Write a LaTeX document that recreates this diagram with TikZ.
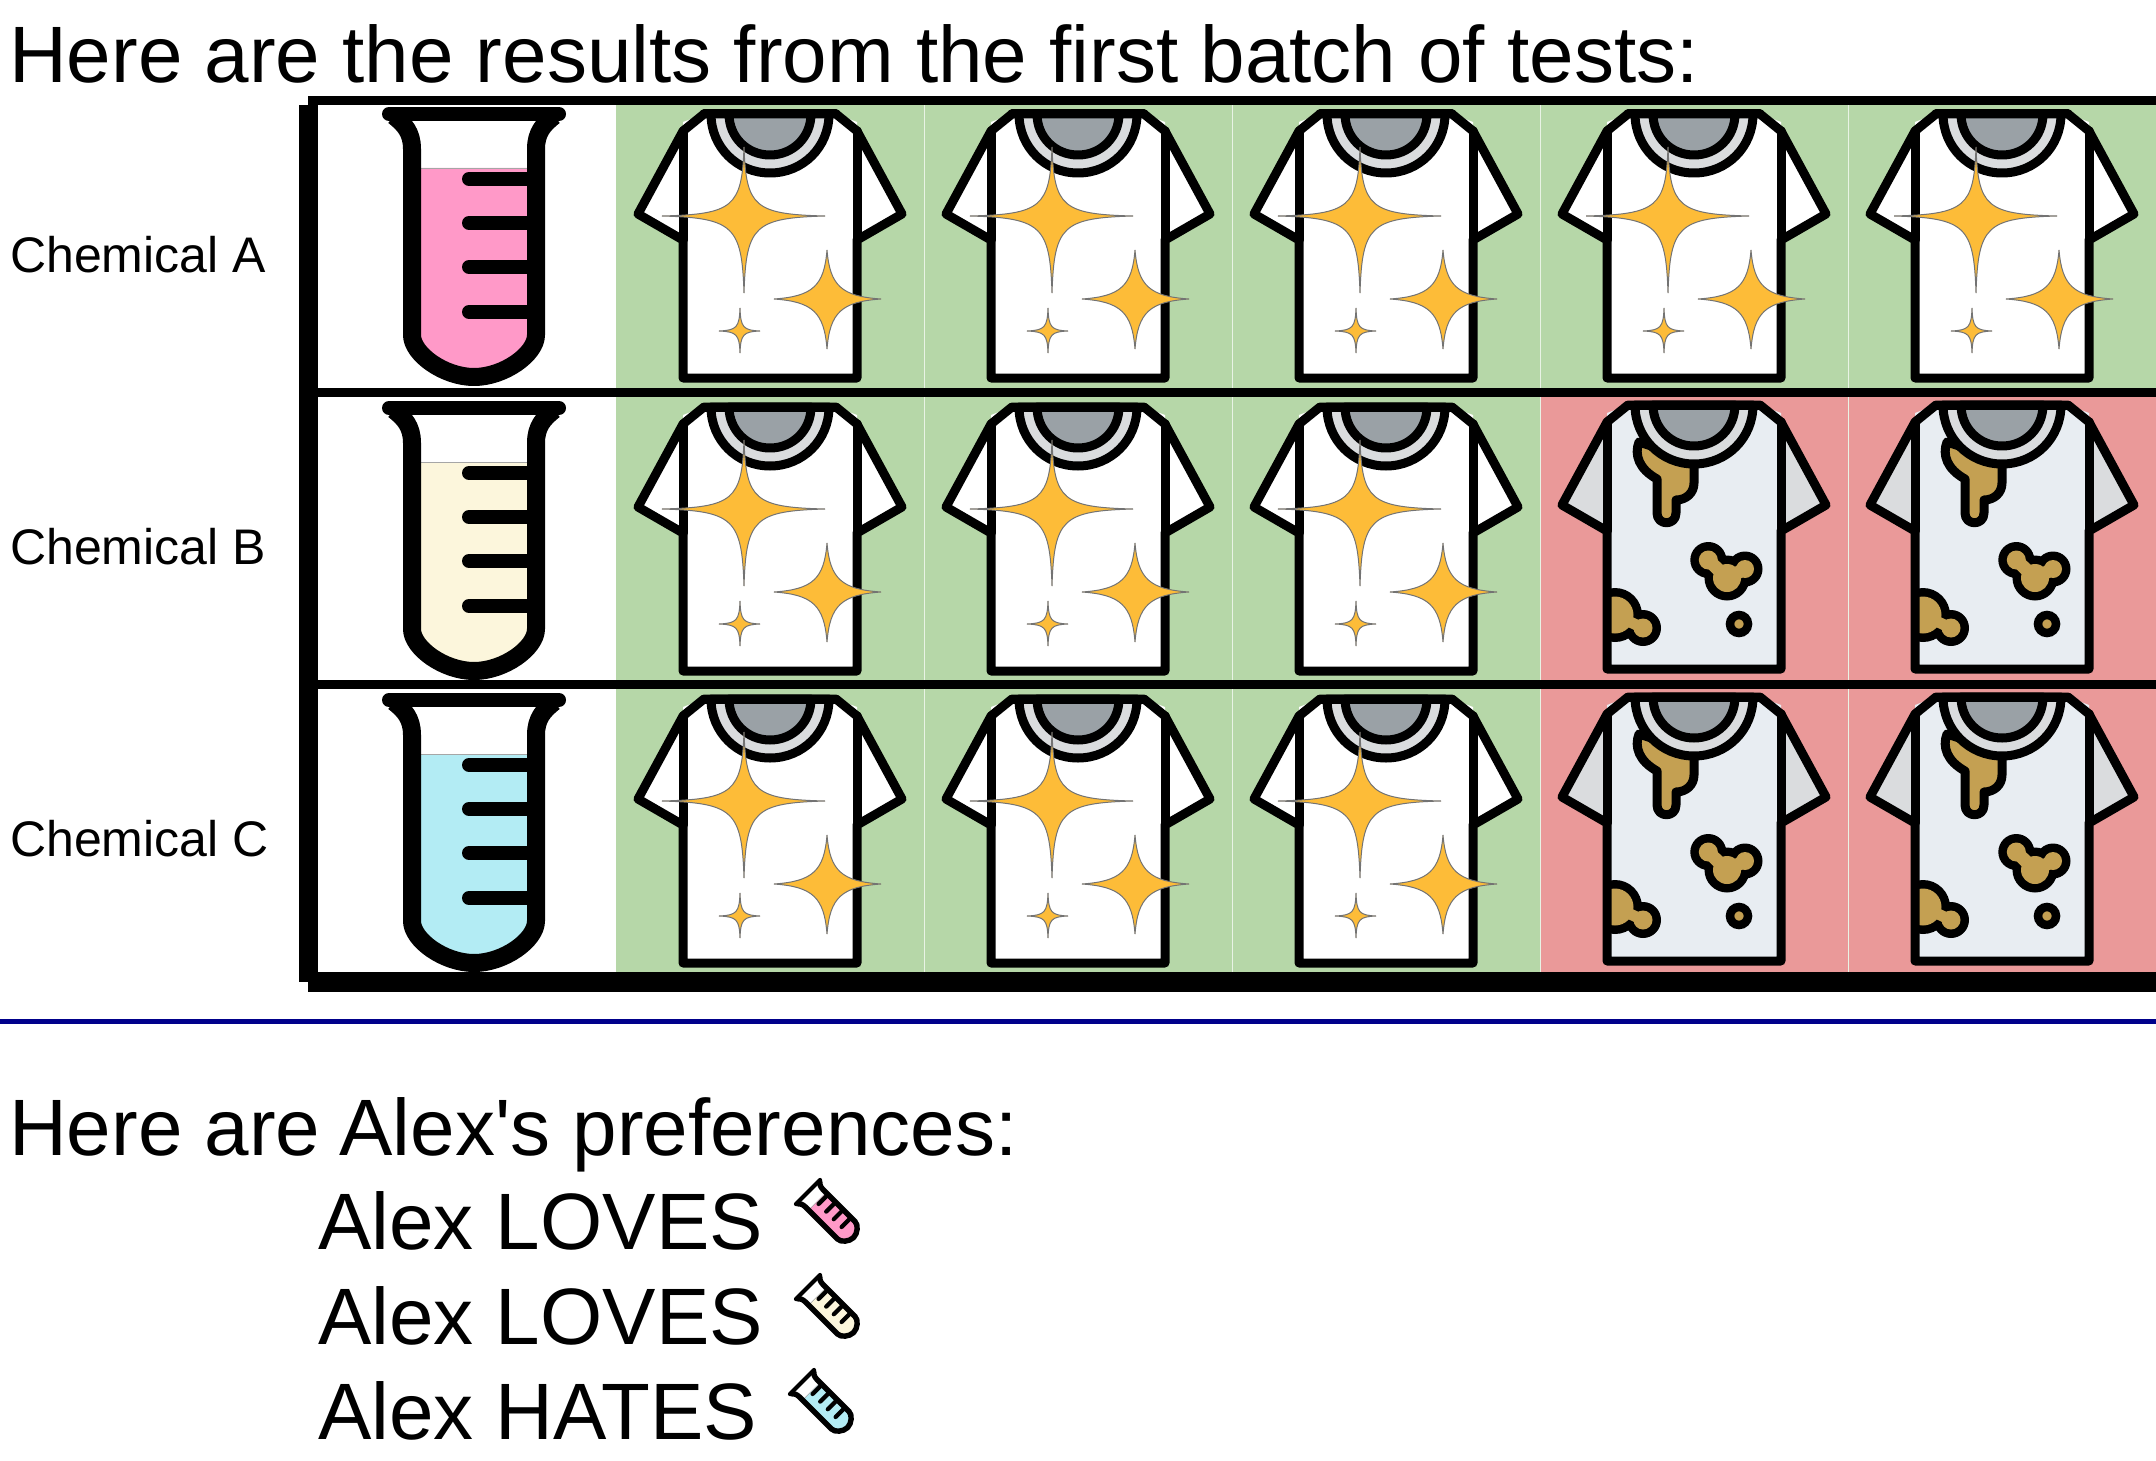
\documentclass[tikz,border=0pt]{standalone}
\usepackage{fontspec}
\newfontfamily\plainsans{Liberation Sans}
\definecolor{cellgreen}{HTML}{B6D7A8}
\definecolor{cellred}{HTML}{EA9999}
\definecolor{tubepink}{HTML}{FF99C8}
\definecolor{tubecream}{HTML}{FCF6DC}
\definecolor{tubeblue}{HTML}{B3ECF4}
\definecolor{collarlight}{HTML}{DADCDE}
\definecolor{neckgray}{HTML}{9AA1A6}
\definecolor{dirtybody}{HTML}{E8EDF2}
\definecolor{stain}{HTML}{C4A052}
\definecolor{gold}{HTML}{FDBC38}
\definecolor{rulenavy}{HTML}{00008B}
\tikzset{
  x=1pt,y=-1pt,
  bar/.style={fill=black,draw=none},
  shirtline/.style={draw=black,line width=9pt,line join=round,line cap=round},
  sparkle/.style={fill=gold,draw=black!55,line width=1pt,line join=miter},
  bigtext/.style={anchor=base west,inner sep=0pt,font=\plainsans\fontsize{80}{96}\selectfont},
  rowlabel/.style={anchor=base west,inner sep=0pt,font=\plainsans\fontsize{50}{60}\selectfont},
}
% x, y, colour, stroke factor, scope options
\newcommand{\testtube}[5]{%
  \begin{scope}[shift={(#1,#2)},#5]
    \fill[#3] (-62,54) -- (-62,221) .. controls (-62,240) and (-30,263) .. (0,263)
      .. controls (30,263) and (62,240) .. (62,221) -- (62,54) -- cycle;
    \draw[black!35,line width=.6pt] (-62,54) -- (62,54);
    \draw[black,line width=#4*18pt,line join=round]
      (-80,2) .. controls (-70,10) and (-62,18) .. (-62,35) -- (-62,221)
      .. controls (-62,240) and (-30,263) .. (0,263)
      .. controls (30,263) and (62,240) .. (62,221) -- (62,35)
      .. controls (62,18) and (70,10) .. (80,2);
    \draw[black,line width=#4*14pt,line cap=round] (-85,0) -- (85,0);
    \foreach \ty in {65,109,153,198}
      {\draw[black,line width=#4*14pt,line cap=round] (-5,\ty) -- (62,\ty);}
  \end{scope}}
\newcommand{\shirtsilhouette}[2]{%
  \fill[#1] (-66,0) -- (66,0) -- (87,17) -- (132,100) -- (87,126) -- (87,264)
    -- (-87,264) -- (-87,126) -- (-132,100) -- (-87,17) -- cycle;
  \fill[#2] (-87,8) -- (-66,0) -- (66,0) -- (87,8) -- (87,264) -- (-87,264) -- cycle;}
\newcommand{\shirtlines}{%
  \draw[shirtline] (-66,0) -- (66,0) -- (87,17) -- (132,100) -- (87,126) -- (87,264)
    -- (-87,264) -- (-87,126) -- (-132,100) -- (-87,17) -- cycle;
  \draw[shirtline] (-87,17) -- (-87,126) (87,17) -- (87,126);}
\newcommand{\shirtcollar}{%
  \draw[shirtline,fill=collarlight] (-59,0) .. controls (-59,33) and (-33,59) .. (0,59)
    .. controls (33,59) and (59,33) .. (59,0) -- cycle;
  \draw[shirtline,fill=neckgray] (-41,0) .. controls (-41,23) and (-23,41) .. (0,41)
    .. controls (23,41) and (41,23) .. (41,0) -- cycle;
  \draw[shirtline] (-66,0) -- (66,0);}
% x y l r t b c: four-pointed star with centre (x,y)
\newcommand{\spark}[7]{%
  \draw[sparkle] (#1,#2-#5)
    .. controls (#1+.2*#7*#4,#2-#7*#5) and (#1+#7*#4,#2-.2*#7*#5) .. (#1+#4,#2)
    .. controls (#1+#7*#4,#2+.2*#7*#6) and (#1+.2*#7*#4,#2+#7*#6) .. (#1,#2+#6)
    .. controls (#1-.2*#7*#3,#2+#7*#6) and (#1-#7*#3,#2+.2*#7*#6) .. (#1-#3,#2)
    .. controls (#1-#7*#3,#2-.2*#7*#5) and (#1-.2*#7*#3,#2-#7*#5) .. (#1,#2-#5) -- cycle;}
\newcommand{\cleanshirt}[2]{%
  \begin{scope}[shift={(#1,#2)}]
    \shirtsilhouette{white}{white}
    \shirtlines
    \shirtcollar
    \spark{-26}{102}{82}{81}{69}{77}{.13}
    \spark{57}{185}{53}{54}{49}{50}{.27}
    \spark{-30}{217}{21}{20}{23}{22}{.16}
  \end{scope}}
\newcommand{\dirtyshirt}[2]{%
  \begin{scope}[shift={(#1,#2)}]
    \shirtsilhouette{collarlight}{dirtybody}
    % neck stain
    \draw[shirtline,fill=stain] (-55,37) .. controls (-60,50) and (-55,64) .. (-37,74)
      -- (-37,108) .. controls (-37,121) and (-18,121) .. (-18,108) -- (-18,95)
      .. controls (-8,95) and (0,88) .. (0,78) -- (0,55) -- cycle;
    % blob stains, drawn black first and filled after so they merge
    \fill[black] (14.3,155) circle[radius=18] (51,164) circle[radius=17.5] (33,173) circle[radius=22.5];
    \draw[black,line width=30pt] (14.3,155) -- (33,173) (51,164) -- (33,173);
    \fill[stain] (14.3,155) circle[radius=9.5] (51,164) circle[radius=9] (33,173) circle[radius=14];
    \draw[stain,line width=13pt] (14.3,155) -- (33,173) (51,164) -- (33,173);
    \begin{scope}
      \clip (-87,130) rectangle (87,264);
      \fill[black] (-79,210) circle[radius=27] (-51,223) circle[radius=18];
      \draw[black,line width=28pt] (-79,210) -- (-51,223);
      \fill[stain] (-79,210) circle[radius=18.5] (-51,223) circle[radius=9.5];
      \draw[stain,line width=11pt] (-79,210) -- (-51,223);
    \end{scope}
    \draw[black,line width=8.5pt,fill=stain] (45,219) circle[radius=9];
    \shirtlines
    \shirtcollar
  \end{scope}}
\begin{document}
\begin{tikzpicture}
\useasboundingbox (0,0) rectangle (2156,1461);
\fill[white] (0,0) rectangle (2156,1461);

% result cells
\foreach \cx/\rowtop/\rowbot/\col in {
  616/105/397/cellgreen,924/105/397/cellgreen,1232/105/397/cellgreen,1540/105/397/cellgreen,1848/105/397/cellgreen,
  616/397/689/cellgreen,924/397/689/cellgreen,1232/397/689/cellgreen,1540/397/689/cellred,1848/397/689/cellred,
  616/689/972/cellgreen,924/689/972/cellgreen,1232/689/972/cellgreen,1540/689/972/cellred,1848/689/972/cellred}
  {\fill[\col] (\cx,\rowtop) rectangle (\cx+308,\rowbot);}
\foreach \dx in {924,1232,1540,1848}
  {\draw[white!70!cellgreen,line width=1pt] (\dx,105) -- (\dx,972);}

% shirts
\foreach \cx in {770,1078,1386,1694,2002} {\cleanshirt{\cx}{114}}
\foreach \cx in {770,1078,1386} {\cleanshirt{\cx}{407}\cleanshirt{\cx}{699}}
\foreach \cx in {1694,2002} {\dirtyshirt{\cx}{405}\dirtyshirt{\cx}{697}}

% table rules
\fill[bar] (308,96) rectangle (2156,105);
\fill[bar] (299,105) rectangle (318,982);
\fill[bar] (318,388) rectangle (2156,397);
\fill[bar] (318,680) rectangle (2156,689);
\fill[bar] (308,972) rectangle (2156,992);
\fill[rulenavy] (0,1019) rectangle (2156,1024);

% tubes
\testtube{474}{114}{tubepink}{1}{}
\testtube{474}{408}{tubecream}{1}{}
\testtube{474}{700}{tubeblue}{1}{}
\testtube{808}{1192}{tubepink}{.3}{rotate=45,xscale=.2,yscale=.245}
\testtube{808}{1287}{tubecream}{.3}{rotate=45,xscale=.2,yscale=.245}
\testtube{802}{1382}{tubeblue}{.3}{rotate=45,xscale=.2,yscale=.245}

% text
\node[bigtext] (title) at (9,83) {Here are the results from the first batch of tests:};
\node[rowlabel] (labela) at (10,272) {Chemical A};
\node[rowlabel] (labelb) at (10,564) {Chemical B};
\node[rowlabel] (labelc) at (10,856) {Chemical C};
\node[bigtext] (prefs) at (9,1155) {Here are\hspace{-3pt} Alex's preferences:};
\node[bigtext] (lovea) at (318,1249) {Alex LOVES};
\node[bigtext] (loveb) at (318,1344) {Alex LOVES};
\node[bigtext] (hatec) at (318,1439) {Alex HATES};
\end{tikzpicture}
\end{document}
